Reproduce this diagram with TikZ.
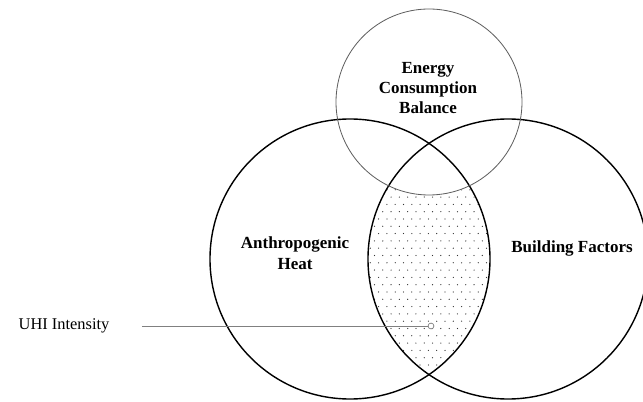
\documentclass[tikz,border=0pt]{standalone}
\usepackage{fontspec}
\setmainfont{Liberation Serif}
\usetikzlibrary{positioning}
\definecolor{ringgray}{RGB}{95,95,95}
\definecolor{leadgray}{RGB}{128,128,128}
\definecolor{dotgray}{RGB}{50,50,50}

\begin{document}
\begin{tikzpicture}[
  x=0.03cm, y=-0.03cm,
  venn/.style={draw,circle,line width=1.2pt,minimum size=8.4cm,inner sep=0pt},
  venntop/.style={draw=ringgray,circle,line width=0.7pt,minimum size=5.58cm,inner sep=0pt},
  setlabel/.style={font=\fontsize{14.5}{17.4}\selectfont\bfseries,align=center},
  lead/.style={draw=leadgray,line width=0.8pt}
]
\useasboundingbox (0,0) rectangle (643,402);
% dotted overlap of the two large sets
\begin{scope}
  \clip (350,259) circle[radius=4.2cm];
  \clip (508,259) circle[radius=4.2cm];
  \foreach \r in {0,...,32}{
    \foreach \c in {0,...,16}{
      \pgfmathsetmacro\dx{mod(\r,2)*4.15}
      \fill[dotgray] (362+\c*8.3+\dx,146+\r*7.3) circle[radius=0.55pt];
    }
  }
\end{scope}
\fill[white] (429,102) circle[radius=2.79cm];

% the three sets
\node[venn] (anthro) at (350,259) {};
\node[venn] (building) at (508,259) {};
\node[venntop] (energy) at (429,102) {};

\node[setlabel] (energyText) at (428,88) {Energy\\Consumption\\Balance};
\node[setlabel] (anthroText) at (295,253) {Anthropogenic\\Heat};
\node[setlabel] (buildingText) at (572,248) {Building Factors};

% pointer to the overlap
\node[font=\fontsize{14}{17}\selectfont] (uhi) at (64,326) {UHI Intensity};
\node[draw=leadgray,fill=white,circle,line width=0.6pt,minimum size=5pt,inner sep=0pt] (hub) at (431,326) {};
\coordinate[right=0.85cm of uhi] (leadstart);
\draw[lead] (leadstart) -- (hub);
\end{tikzpicture}
\end{document}
